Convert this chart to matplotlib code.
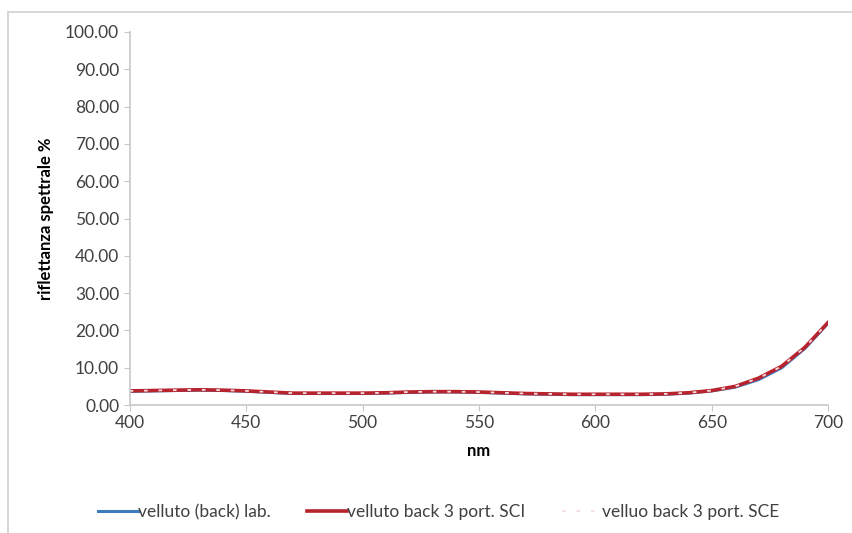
import matplotlib
matplotlib.use('Agg')
import matplotlib.pyplot as plt
from matplotlib.patches import Rectangle

# ── data ───────────────────────────────────────────────────────────────────
nm = [400, 410, 420, 430, 440, 450, 460, 470, 480, 490, 500, 510, 520, 530,
      540, 550, 560, 570, 580, 590, 600, 610, 620, 630, 640, 650, 660, 670,
      680, 690, 700]
lab = [3.7, 3.8, 3.9, 4.0, 3.9, 3.7, 3.4, 3.1, 3.1, 3.1, 3.1, 3.2, 3.4, 3.5,
       3.5, 3.4, 3.2, 3.0, 2.9, 2.8, 2.8, 2.8, 2.8, 2.9, 3.2, 3.8, 4.8, 6.8,
       10.0, 15.2, 22.0]
sci = [3.8, 3.9, 4.0, 4.1, 4.0, 3.8, 3.5, 3.2, 3.2, 3.2, 3.2, 3.3, 3.5, 3.6,
       3.6, 3.5, 3.3, 3.1, 3.0, 2.9, 2.9, 2.9, 2.9, 3.0, 3.3, 3.9, 5.0, 7.2,
       10.4, 15.5, 22.2]
sce = [3.8, 3.9, 4.0, 4.1, 4.0, 3.8, 3.5, 3.2, 3.2, 3.2, 3.2, 3.3, 3.5, 3.6,
       3.6, 3.5, 3.3, 3.1, 3.0, 2.9, 2.9, 2.9, 2.9, 3.0, 3.3, 3.9, 5.0, 7.2,
       10.4, 15.5, 22.2]

labels = ['velluto (back) lab.', 'velluto back 3 port. SCI',
          'velluo back 3 port. SCE']

plt.rcParams['font.family'] = ['Lato', 'DejaVu Sans']

fig = plt.figure(figsize=(8.53, 5.33), dpi=100)
ax = fig.add_axes([0.152, 0.240, 0.819, 0.700])

ax.plot(nm, lab, color='#3b7dbf', lw=2.2, label=labels[0])
ax.plot(nm, sci, color='#b8242e', lw=2.6, label=labels[1])
ax.plot(nm, sce, color='#f3dede', lw=1.3, ls=(0, (2, 6)), label=labels[2])

ax.set_xlim(400, 700)
ax.set_ylim(0, 100)
ax.set_xticks(range(400, 701, 50))
ax.set_yticks(range(0, 101, 10))
ax.set_yticklabels([f'{v:.2f}' for v in range(0, 101, 10)])

for s in ['top', 'right']:
    ax.spines[s].set_visible(False)
for s in ['left', 'bottom']:
    ax.spines[s].set_color('#c8c8c8')
    ax.spines[s].set_linewidth(1.2)
ax.tick_params(axis='both', colors='#c8c8c8', labelcolor='#404040',
               labelsize=12.5, length=4, direction='out')

ax.set_xlabel('nm', fontsize=12, fontweight='bold', labelpad=8)
ax.set_ylabel('riflettanza spettrale %', fontsize=12, fontweight='bold',
              labelpad=8)

fig.legend(loc='center', bbox_to_anchor=(0.514, 1 - 512 / 533), ncol=3,
           frameon=False, fontsize=12.5, handlelength=2.3, handletextpad=0.0,
           columnspacing=2.1, labelcolor='#404040')

# chart frame
fig.patches.append(Rectangle((8 / 853, -0.01), 1.0, 1 - 12 / 533 + 0.01,
                             transform=fig.transFigure, fill=False,
                             edgecolor='#d0d0d0', lw=1.2))

fig.savefig('out.png', dpi=100)
